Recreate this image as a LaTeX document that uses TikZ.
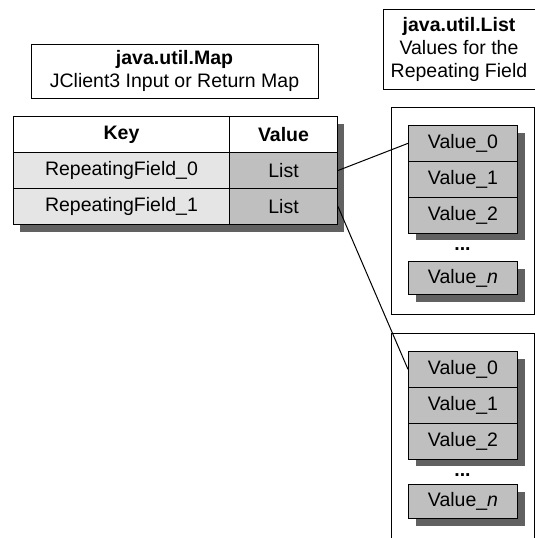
\documentclass[tikz,border=0pt]{standalone}
\usepackage{fontspec}
\setmainfont{Liberation Sans}
\begin{document}
\begin{tikzpicture}[x=1pt,y=-1pt,
  txt/.style={font=\fontsize{19.5}{23}\selectfont},
  outline/.style={draw=black,line width=1pt},
  shadowfill/.style={fill=black!62},
  cell/.style={outline,txt,rectangle,inner sep=0pt,anchor=north west},
  keycell/.style={cell,fill=black!10,minimum width=216pt,minimum height=36pt},
  valcell/.style={cell,fill=black!25,minimum width=108pt,minimum height=36pt},
  headcell/.style={cell,fill=white,font=\fontsize{19.5}{23}\selectfont\bfseries,minimum height=36pt},
  item/.style={cell,fill=black!25,minimum width=109pt,minimum height=35.7pt},
  titlebox/.style={outline,txt,fill=white,align=center,inner sep=0pt,rectangle},
  link/.style={draw=black,line width=1pt}
]
\useasboundingbox (0,0) rectangle (535,538);
\clip (0,0) rectangle (535,538);

% ---- map caption ----
\node[titlebox,minimum width=287pt,minimum height=54pt] (maptitle) at (174.5,71)
  {\textbf{java.util.Map}\\JClient3 Input or Return Map};

% ---- map table ----
\fill[shadowfill] (20,124) rectangle (344,232);
\node[headcell,minimum width=216pt] (keyhead) at (13,116) {Key};
\node[headcell,minimum width=108pt] (valhead) at (229,116) {Value};
\node[keycell] (key0) at (13,152) {RepeatingField\_0};
\node[valcell] (val0) at (229,152) {List};
\node[keycell] (key1) at (13,188) {RepeatingField\_1};
\node[valcell] (val1) at (229,188) {List};

% ---- list caption ----
\node[titlebox,minimum width=152pt,minimum height=80pt] (listtitle) at (459,49)
  {\textbf{java.util.List}\\Values for the\\Repeating Field};

% ---- first list ----
\draw[outline,fill=white] (391,107) rectangle (534,314);
\fill[shadowfill] (416,133) rectangle (525,240);
\node[item] (a0) at (408,125) {Value\_0};
\node[item] (a1) at (408,161) {Value\_1};
\node[item] (a2) at (408,197) {Value\_2};
\node[txt,font=\fontsize{19.5}{23}\selectfont\bfseries] (adots) at (462.5,249) {...};
\fill[shadowfill] (416,269) rectangle (525,302);
\node[cell,fill=black!25,minimum width=109pt,minimum height=33pt] (an) at (408,261) {Value\_\textit{n}};

% ---- second list ----
\draw[outline,fill=white] (391,333) rectangle (534,560);
\fill[shadowfill] (416,359) rectangle (525,466);
\node[item] (b0) at (408,351) {Value\_0};
\node[item] (b1) at (408,387) {Value\_1};
\node[item] (b2) at (408,423) {Value\_2};
\node[txt,font=\fontsize{19.5}{23}\selectfont\bfseries] (bdots) at (462.5,475) {...};
\fill[shadowfill] (416,492) rectangle (525,526);
\node[cell,fill=black!25,minimum width=109pt,minimum height=34pt] (bn) at (408,484) {Value\_\textit{n}};

% ---- references from map values to lists ----
\draw[link] (val0.east) -- (a0.west);
\draw[link] (val1.east) -- (b0.west);
\end{tikzpicture}
\end{document}
